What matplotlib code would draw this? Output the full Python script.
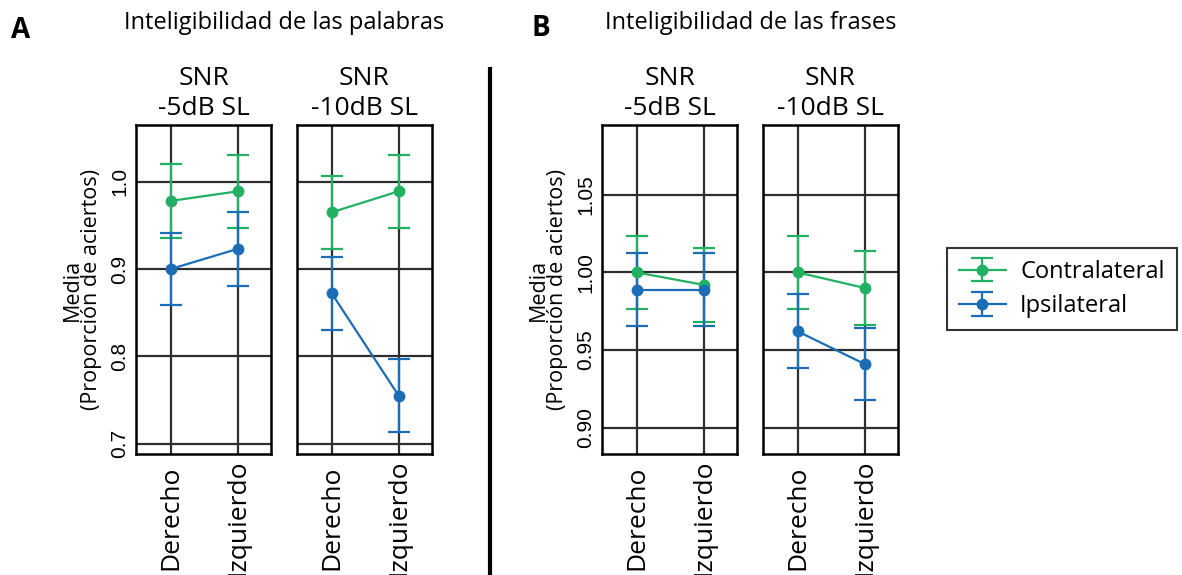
import matplotlib
matplotlib.use("Agg")
import matplotlib.pyplot as plt
from matplotlib.lines import Line2D
from matplotlib.ticker import FormatStrFormatter

plt.rcParams['font.family'] = ['Open Sans', 'DejaVu Sans']

# data
oidos = ["Derecho", "Izquierdo"]
snr_titulos = ["SNR\n-5dB SL", "SNR\n-10dB SL"]

# A: palabras
pal_contra_5 = [0.978, 0.989]
pal_contra_5_err = [0.042, 0.042]
pal_ipsi_5 = [0.900, 0.923]
pal_ipsi_5_err = [0.041, 0.042]
pal_contra_10 = [0.965, 0.989]
pal_contra_10_err = [0.042, 0.042]
pal_ipsi_10 = [0.872, 0.755]
pal_ipsi_10_err = [0.042, 0.042]

# B: frases
fra_contra_5 = [1.000, 0.992]
fra_contra_5_err = [0.0237, 0.0237]
fra_ipsi_5 = [0.989, 0.989]
fra_ipsi_5_err = [0.0235, 0.0235]
fra_contra_10 = [1.000, 0.990]
fra_contra_10_err = [0.0236, 0.0236]
fra_ipsi_10 = [0.962, 0.941]
fra_ipsi_10_err = [0.0238, 0.0235]

pal_yticks = [0.7, 0.8, 0.9, 1.0]
fra_yticks = [0.90, 0.95, 1.00, 1.05]

VERDE = '#22b063'
AZUL = '#1b6db5'

W, H = 1182, 575
fig = plt.figure(figsize=(W / 100, H / 100), dpi=100)


def panel(left, contra, contra_err, ipsi, ipsi_err, titulo, ylim, yticks, fmt, first):
    ax = fig.add_axes([left / W, (H - 454) / H, 135 / W, 329 / H])
    x = list(range(len(oidos)))
    ax.errorbar(x, contra, yerr=contra_err, fmt='-o', color=VERDE, lw=1.6,
                elinewidth=1.6, capsize=8, capthick=1.6, markersize=7.5,
                label='Contralateral')
    ax.errorbar(x, ipsi, yerr=ipsi_err, fmt='-o', color=AZUL, lw=1.6,
                elinewidth=1.6, capsize=8, capthick=1.6, markersize=7.5,
                label='Ipsilateral')
    ax.set_xlim(-0.52, 1.5)
    ax.set_ylim(*ylim)
    ax.set_xticks(x)
    ax.set_xticklabels(oidos, rotation=90, va='center', fontsize=19)
    ax.set_yticks(yticks)
    ax.yaxis.set_major_formatter(FormatStrFormatter(fmt))
    ax.tick_params(axis='x', length=0, pad=46)
    ax.tick_params(axis='y', length=0, pad=5, labelsize=15)
    for lab in ax.get_yticklabels():
        lab.set_rotation(90)
        lab.set_va('center')
        lab.set_family(['Liberation Sans'])
    if not first:
        ax.set_yticklabels([])
    else:
        ax.set_ylabel("Media\n(Proporción de aciertos)", fontsize=15.5,
                      linespacing=0.92)
        ax.yaxis.set_label_coords(-0.25, 0.5)
    ax.grid(True, color='#2e2e2e', linewidth=1.6)
    ax.set_axisbelow(True)
    for s in ax.spines.values():
        s.set_linewidth(1.8)
        s.set_color('black')
    ax.set_title(titulo, fontsize=19, linespacing=1.3, pad=7)
    return ax


panel(136, pal_contra_5, pal_contra_5_err, pal_ipsi_5, pal_ipsi_5_err,
      snr_titulos[0], (0.688, 1.065), pal_yticks, '%.1f', True)
panel(297, pal_contra_10, pal_contra_10_err, pal_ipsi_10, pal_ipsi_10_err,
      snr_titulos[1], (0.688, 1.065), pal_yticks, '%.1f', False)
panel(602, fra_contra_5, fra_contra_5_err, fra_ipsi_5, fra_ipsi_5_err,
      snr_titulos[0], (0.883, 1.095), fra_yticks, '%.2f', True)
ax4 = panel(763, fra_contra_10, fra_contra_10_err, fra_ipsi_10, fra_ipsi_10_err,
            snr_titulos[1], (0.883, 1.095), fra_yticks, '%.2f', False)

# panel headings
fig.text(21 / W, 1 - 31 / H, "A", fontsize=20, fontweight='bold', ha='center', va='center')
fig.text(284 / W, 1 - 23 / H, "Inteligibilidad de las palabras", fontsize=17,
         ha='center', va='center')
fig.text(541 / W, 1 - 29 / H, "B", fontsize=20, fontweight='bold', ha='center', va='center')
fig.text(751 / W, 1 - 23 / H, "Inteligibilidad de las frases", fontsize=17,
         ha='center', va='center')

# separator between A and B
fig.add_artist(Line2D([490 / W, 490 / W], [0, 1 - 69 / H], color='black', lw=3))

leg = ax4.legend(loc='upper left', bbox_to_anchor=(947 / W, 1 - 248 / H),
                 bbox_transform=fig.transFigure, borderaxespad=0, fontsize=17,
                 frameon=True, fancybox=False, edgecolor='black',
                 handlelength=2.0, labelspacing=0.45, borderpad=0.5,
                 handletextpad=0.6)
leg.get_frame().set_linewidth(1.5)

fig.savefig("out.png", dpi=100)
